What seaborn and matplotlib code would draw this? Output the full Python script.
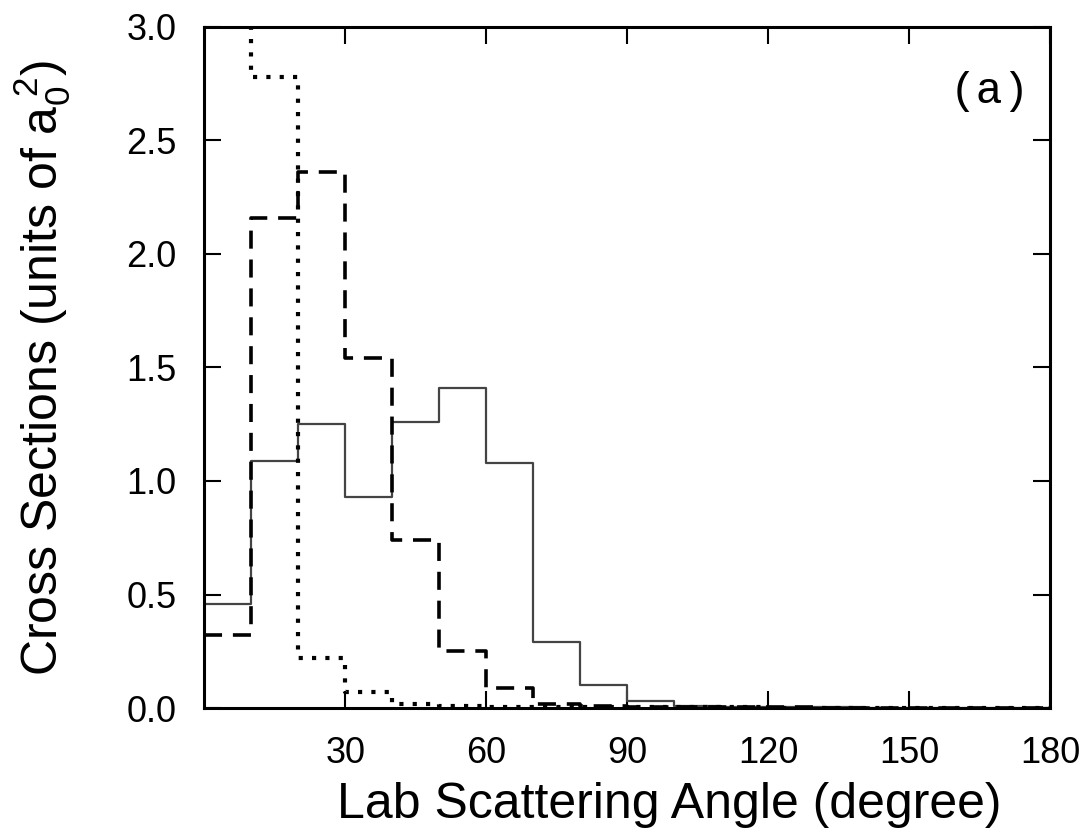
import numpy as np
import pandas as pd
import seaborn as sns
import matplotlib.pyplot as plt

# 10-degree bins, 0..180
bin_edges = np.arange(0, 190, 10)
bin_left = bin_edges[:-1]

solid_vals = [0.46, 1.09, 1.25, 0.93, 1.26, 1.41, 1.08, 0.29, 0.10, 0.03,
              0.008, 0.005, 0.004, 0.003, 0.002, 0.002, 0.001, 0.001]
dashed_vals = [0.32, 2.16, 2.36, 1.54, 0.74, 0.25, 0.09, 0.02, 0.01, 0.006,
               0.005, 0.004, 0.003, 0.002, 0.002, 0.001, 0.001, 0.001]
dotted_vals = [3.6, 2.78, 0.22, 0.07, 0.02, 0.01, 0.006, 0.005, 0.004, 0.004,
               0.003, 0.003, 0.002, 0.002, 0.002, 0.001, 0.001, 0.001]

sns.set_style("ticks")
plt.rcParams['font.family'] = ['Liberation Sans', 'DejaVu Sans']
plt.rcParams['mathtext.fontset'] = 'custom'
plt.rcParams['mathtext.rm'] = 'Liberation Sans'
plt.rcParams['mathtext.it'] = 'Liberation Sans'
plt.rcParams['text.color'] = 'black'
plt.rcParams['axes.labelcolor'] = 'black'
plt.rcParams['xtick.color'] = 'black'
plt.rcParams['ytick.color'] = 'black'

fig = plt.figure(figsize=(10.86, 8.36), dpi=100)
ax = fig.add_axes([0.188, 0.153, 0.779, 0.815])

centers = bin_left + 5
df = pd.DataFrame({"angle": np.tile(centers, 3).astype(float),
                   "cs": solid_vals + dashed_vals + dotted_vals,
                   "kind": ["solid"] * 18 + ["dashed"] * 18 + ["dotted"] * 18})

styles = {"solid": dict(color="#444444", lw=1.6, linestyle="-"),
          "dashed": dict(color="black", lw=2.6, linestyle=(0, (5, 3))),
          "dotted": dict(color="black", lw=3.0, linestyle=(0, (1, 2.2)))}

for k in ["solid", "dashed", "dotted"]:
    d = df[df["kind"] == k].reset_index(drop=True)
    sns.histplot(data=d, x="angle", weights="cs", bins=list(bin_edges),
                 element="step", fill=False, ax=ax, **styles[k])

ax.set_xlim(0, 180)
ax.set_ylim(0, 3.0)
ax.set_xticks([30, 60, 90, 120, 150, 180])
ax.set_yticks(np.arange(0, 3.01, 0.5))
ax.set_yticklabels(["0.0", "0.5", "1.0", "1.5", "2.0", "2.5", "3.0"])
ax.tick_params(direction="in", length=12, width=1.5, top=True, right=True,
               labelsize=26, pad=20)
for s in ax.spines.values():
    s.set_linewidth(2.2)
    s.set_color("black")

ax.set_xlabel("Lab Scattering Angle (degree)", fontsize=36, labelpad=8)
ax.xaxis.label.set_x(0.55)
ax.set_ylabel(r"Cross Sections (units of $\mathregular{a_0^{\ 2}}$)", fontsize=36, labelpad=38)
ax.text(0.976, 0.905, "(a)", transform=ax.transAxes, ha="right", va="center",
        fontsize=32, family="Liberation Mono")

fig.savefig("out.png", dpi=100)
